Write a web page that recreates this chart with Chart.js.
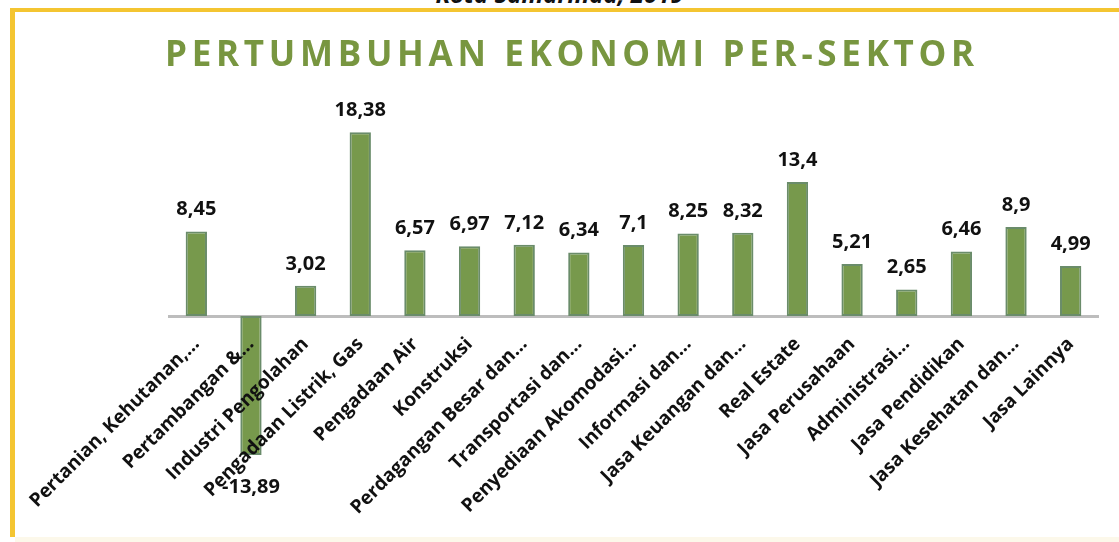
<!DOCTYPE html>
<html lang="id">
  <head>
    <meta charset="UTF-8" />
    <title>Pertumbuhan Ekonomi Per-Sektor</title>
    <script src="https://cdn.jsdelivr.net/npm/chart.js"></script>
    <style>
      html,
      body {
        margin: 0;
        padding: 0;
        width: 1119px;
        height: 542px;
        overflow: hidden;
        background: #ffffff;
        font-family: "Open Sans", sans-serif;
      }
      .frame {
        position: absolute;
        left: 10px;
        top: 8px;
        right: -20px;
        bottom: 5px;
        border-top: 4px solid #f4c531;
        border-left: 5px solid #f4c531;
        background: #ffffff;
      }
      .foot {
        position: absolute;
        left: 15px;
        right: 0;
        bottom: 0;
        height: 5px;
        background: #fcf8ea;
      }
      .caption {
        position: absolute;
        top: -18px;
        left: 0;
        width: 1119px;
        text-align: center;
        font-weight: bold;
        font-style: italic;
        font-size: 24px;
        line-height: 24px;
        color: #111;
      }
      .chart-box {
        position: absolute;
        left: 0;
        top: 0;
        width: 1119px;
        height: 542px;
      }
    </style>
  </head>
  <body>
    <div class="frame"></div>
    <div class="foot"></div>
    <div class="caption">Kota Samarinda, 2019</div>
    <div class="chart-box">
      <canvas id="sektorChart"></canvas>
    </div>

    <script>
      const chartTitle = "PERTUMBUHAN EKONOMI PER-SEKTOR";

      const sectors = [
        "Pertanian, Kehutanan,…",
        "Pertambangan &…",
        "Industri Pengolahan",
        "Pengadaan Listrik, Gas",
        "Pengadaan Air",
        "Konstruksi",
        "Perdagangan Besar dan…",
        "Transportasi dan…",
        "Penyediaan Akomodasi…",
        "Informasi dan…",
        "Jasa Keuangan dan…",
        "Real Estate",
        "Jasa Perusahaan",
        "Administrasi…",
        "Jasa Pendidikan",
        "Jasa Kesehatan dan…",
        "Jasa Lainnya",
      ];

      const growth = [
        8.45, -13.89, 3.02, 18.38, 6.57, 6.97, 7.12, 6.34, 7.1, 8.25, 8.32,
        13.4, 5.21, 2.65, 6.46, 8.9, 4.99,
      ];

      const yMin = -14;
      const yMax = 20;

      // comma as decimal separator, like the source
      function fmt(v) {
        return String(v).replace(".", ",");
      }

      // title drawn by hand so it can be letter-spaced
      const spacedTitle = {
        id: "spacedTitle",
        afterDraw(chart) {
          const ctx = chart.ctx;
          ctx.save();
          ctx.font = "bold 35px 'Open Sans'";
          ctx.letterSpacing = "4.7px";
          ctx.fillStyle = "#789640";
          ctx.textAlign = "center";
          ctx.textBaseline = "middle";
          ctx.fillText(chartTitle, 572, 56);
          ctx.restore();
        },
      };

      // value labels above (or below) each bar
      const barValues = {
        id: "barValues",
        afterDatasetsDraw(chart) {
          const ctx = chart.ctx;
          const meta = chart.getDatasetMeta(0);
          ctx.save();
          ctx.font = "bold 20px 'Open Sans'";
          ctx.fillStyle = "#111111";
          ctx.textAlign = "center";
          meta.data.forEach((bar, i) => {
            const v = growth[i];
            if (v >= 0) {
              ctx.textBaseline = "bottom";
              ctx.fillText(fmt(v), bar.x, bar.y - 12);
            } else {
              ctx.textBaseline = "top";
              ctx.fillText(fmt(v), bar.x, bar.y + 22);
            }
          });
          ctx.restore();
        },
      };

      const ctx = document.getElementById("sektorChart").getContext("2d");

      new Chart(ctx, {
        type: "bar",
        data: {
          labels: sectors,
          datasets: [
            {
              label: "Pertumbuhan",
              data: growth,
              backgroundColor: "#77994c",
              borderColor: "#6a8c6a",
              borderWidth: 2,
              borderSkipped: false,
              barPercentage: 0.39,
              categoryPercentage: 1,
            },
          ],
        },
        options: {
          responsive: true,
          maintainAspectRatio: false,
          animation: false,
          layout: {
            padding: { left: 169, right: 21, top: 116, bottom: 86 },
          },
          plugins: {
            legend: { display: false },
            title: { display: false },
            tooltip: { enabled: false },
          },
          scales: {
            y: {
              display: false,
              min: yMin,
              max: yMax,
            },
            x: {
              position: { y: 0 },
              grid: { display: false, drawTicks: false },
              border: { display: true, color: "#bdbdbd", width: 3 },
              ticks: {
                z: 1,
                autoSkip: false,
                minRotation: 45,
                maxRotation: 45,
                padding: 17,
                color: "#111111",
                font: { family: "'Open Sans'", size: 19, weight: "bold" },
              },
              // the axis sits on the zero line, so it should take no room
              afterFit(scale) {
                scale.height = 0;
                scale.paddingLeft = 0;
                scale.paddingRight = 0;
              },
            },
          },
        },
        plugins: [spacedTitle, barValues],
      });
    </script>
  </body>
</html>
